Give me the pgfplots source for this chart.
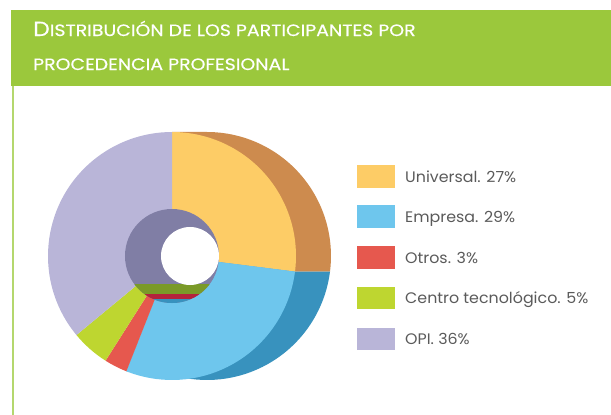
\documentclass[border=0pt]{standalone}
\usepackage{fontspec}
\setmainfont{Poppins}
\newfontfamily\titlefont{Poppins}[FakeStretch=1.15,FakeBold=0.4]
\newfontfamily\legfont{Poppins}[FakeStretch=1.04]
\usepackage{pgfplots}
\usepackage{pgfplotstable}
\pgfplotsset{compat=1.18}
\definecolor{hdr}{RGB}{155,200,60}
\definecolor{lin}{RGB}{180,215,110}
\definecolor{yel}{RGB}{253,204,102}
\definecolor{yelD}{RGB}{205,139,78}
\definecolor{blu}{RGB}{110,198,237}
\definecolor{bluD}{RGB}{56,146,190}
\definecolor{red1}{RGB}{230,88,78}
\definecolor{redD}{RGB}{180,35,60}
\definecolor{grn}{RGB}{190,214,48}
\definecolor{grnD}{RGB}{122,154,40}
\definecolor{pur}{RGB}{185,181,216}
\definecolor{purD}{RGB}{128,126,165}
\definecolor{txt}{RGB}{90,90,90}
\pgfplotstableread{
label pct
Universal 27
Empresa 29
Otros 3
Centro 5
OPI 36
}\piedata
\begin{document}
\begin{tikzpicture}
\pgfplotstablegetelem{0}{pct}\of\piedata \pgfmathsetmacro\pA{\pgfplotsretval}
\pgfplotstablegetelem{1}{pct}\of\piedata \pgfmathsetmacro\pB{\pgfplotsretval}
\pgfplotstablegetelem{2}{pct}\of\piedata \pgfmathsetmacro\pC{\pgfplotsretval}
\pgfplotstablegetelem{3}{pct}\of\piedata \pgfmathsetmacro\pD{\pgfplotsretval}
\pgfplotstablegetelem{4}{pct}\of\piedata \pgfmathsetmacro\pE{\pgfplotsretval}
\pgfmathsetmacro\aA{90}
\pgfmathsetmacro\aB{\aA-3.6*\pA}
\pgfmathsetmacro\aC{\aB-3.6*\pB}
\pgfmathsetmacro\aD{\aC-3.6*\pC}
\pgfmathsetmacro\aE{\aD-3.6*\pD}
\pgfmathsetmacro\aF{\aE-3.6*\pE}
\begin{axis}[at={(0,0)},anchor=south west,x=1bp,y=1bp,
  xmin=0,xmax=611,ymin=0,ymax=415,hide axis,clip=false]
% header and side line
\fill[hdr] (axis cs:11,329) rectangle (axis cs:611,405);
\fill[lin] (axis cs:11.5,0) rectangle (axis cs:13.5,329);
\node[anchor=base west,text=white,inner sep=0pt] at (axis cs:33,379)
  {\titlefont\fontsize{20.5}{22}\selectfont D\fontsize{16.5}{18}\selectfont ISTRIBUCIÓN DE LOS PARTICIPANTES POR};
\node[anchor=base west,text=white,inner sep=0pt] at (axis cs:33,345)
  {\titlefont\fontsize{16.5}{18}\selectfont PROCEDENCIA PROFESIONAL};
% extrusion (side)
\fill[yelD] (axis cs:172,159) -- ++(0,124bp) -- ++(35bp,0) arc[start angle=\aA,end angle=\aB,radius=124bp] -- ++(-35bp,0) -- cycle;
\fill[bluD] (axis cs:172,159) -- ++(\aB:124bp) -- ++(35bp,0) arc[start angle=\aB,end angle=\aC,radius=124bp] -- ++(-35bp,0) -- cycle;
% front face
\fill[yel] (axis cs:172,159) -- ++(\aA:124bp) arc[start angle=\aA,end angle=\aB,radius=124bp] -- cycle;
\fill[blu] (axis cs:172,159) -- ++(\aB:124bp) arc[start angle=\aB,end angle=\aC,radius=124bp] -- cycle;
\fill[red1] (axis cs:172,159) -- ++(\aC:124bp) arc[start angle=\aC,end angle=\aD,radius=124bp] -- cycle;
\fill[grn] (axis cs:172,159) -- ++(\aD:124bp) arc[start angle=\aD,end angle=\aE,radius=124bp] -- cycle;
\fill[pur] (axis cs:172,159) -- ++(\aE:124bp) arc[start angle=\aE,end angle=\aF,radius=124bp] -- cycle;
% hole
\fill[purD] (axis cs:172,159) circle[radius=47bp];
\begin{scope}
\clip (axis cs:172,159) circle[radius=47bp];
\fill[grnD] (axis cs:100,121) rectangle (axis cs:250,131);
\fill[redD] (axis cs:100,116) rectangle (axis cs:250,121);
\fill[bluD] (axis cs:100,90) rectangle (axis cs:250,116);
\end{scope}
\fill[white] (axis cs:190,159) circle[radius=29bp];
% legend
\fill[yel] (axis cs:357,227) rectangle (axis cs:395,250);
\fill[blu] (axis cs:357,187) rectangle (axis cs:395,210);
\fill[red1] (axis cs:357,146) rectangle (axis cs:395,169);
\fill[grn] (axis cs:357,106) rectangle (axis cs:395,128);
\fill[pur] (axis cs:357,65) rectangle (axis cs:395,87);
\begin{scope}[every node/.style={anchor=base west,text=txt,inner sep=0pt,font=\legfont\fontsize{15.3}{18}\selectfont}]
\node at (axis cs:405,233) {Universal. 27\%};
\node at (axis cs:405,193) {Empresa. 29\%};
\node at (axis cs:405,152) {Otros. 3\%};
\node at (axis cs:405,111.5) {Centro tecnológico. 5\%};
\node at (axis cs:405,70.5) {OPI. 36\%};
\end{scope}
\end{axis}
\pgfresetboundingbox
\useasboundingbox (0,0) rectangle (611bp,415bp);
\end{tikzpicture}
\end{document}
